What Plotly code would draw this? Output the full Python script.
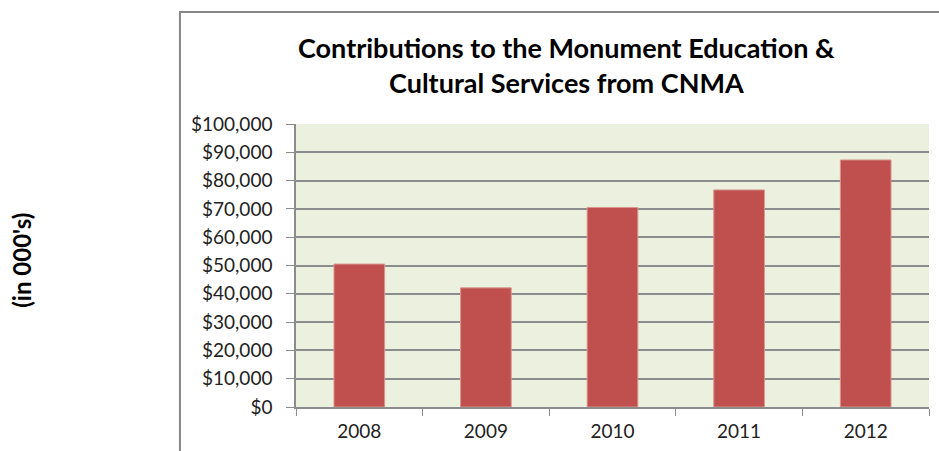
import plotly.graph_objects as go

years = ["2008", "2009", "2010", "2011", "2012"]
contributions = [50500, 42100, 70500, 76700, 87300]
y_ticks = [0, 10000, 20000, 30000, 40000, 50000, 60000, 70000, 80000, 90000, 100000]
y_tick_labels = ["${:,}".format(v) for v in y_ticks]

title_line1 = "Contributions to the Monument Education &"
title_line2 = "Cultural Services from CNMA"
y_label = "(in 000's)"

font_family = "Lato, Open Sans, sans-serif"

fig = go.Figure(
    go.Bar(
        x=years,
        y=contributions,
        marker=dict(color="#C0504D", line=dict(color="#D9958F", width=1)),
        width=0.4,
    )
)

fig.update_layout(
    width=939,
    height=451,
    margin=dict(l=296, r=10, t=124, b=44),
    paper_bgcolor="white",
    plot_bgcolor="#EBF1DE",
    showlegend=False,
    font=dict(family=font_family, size=19, color="#222222"),
    xaxis=dict(
        type="category",
        showline=True,
        linecolor="#8C8C8C",
        linewidth=1.5,
        ticks="outside",
        tickson="boundaries",
        ticklen=7,
        tickcolor="#8C8C8C",
        tickfont=dict(size=19, color="#222222"),
        ticklabelstandoff=6,
        showgrid=False,
    ),
    yaxis=dict(
        range=[0, 100000],
        tickvals=y_ticks,
        ticktext=y_tick_labels,
        showline=True,
        linecolor="#8C8C8C",
        linewidth=1.5,
        ticks="outside",
        ticklen=8,
        tickcolor="#8C8C8C",
        ticklabelstandoff=10,
        showgrid=True,
        gridcolor="#8C8C8C",
        gridwidth=1.5,
        zeroline=False,
        tickfont=dict(size=19, color="#222222"),
    ),
    shapes=[
        dict(
            type="rect",
            xref="paper",
            yref="paper",
            x0=-0.1833,
            x1=1.2,
            y0=-0.4,
            y1=1.3958,
            line=dict(color="#888888", width=2),
            fillcolor="rgba(0,0,0,0)",
            layer="below",
        )
    ],
    annotations=[
        dict(
            text="<b>" + title_line1 + "</b>",
            xref="paper",
            yref="paper",
            x=0.428,
            y=1.272,
            xanchor="center",
            yanchor="middle",
            showarrow=False,
            font=dict(family=font_family, size=27, color="black"),
        ),
        dict(
            text="<b>" + title_line2 + "</b>",
            xref="paper",
            yref="paper",
            x=0.428,
            y=1.148,
            xanchor="center",
            yanchor="middle",
            showarrow=False,
            font=dict(family=font_family, size=27, color="black"),
        ),
        dict(
            text="<b>" + y_label + "</b>",
            xref="paper",
            yref="paper",
            x=-0.433,
            y=0.52,
            xanchor="center",
            yanchor="middle",
            textangle=-90,
            showarrow=False,
            font=dict(family=font_family, size=24, color="black"),
        ),
    ],
)

fig.write_html("out.html")
